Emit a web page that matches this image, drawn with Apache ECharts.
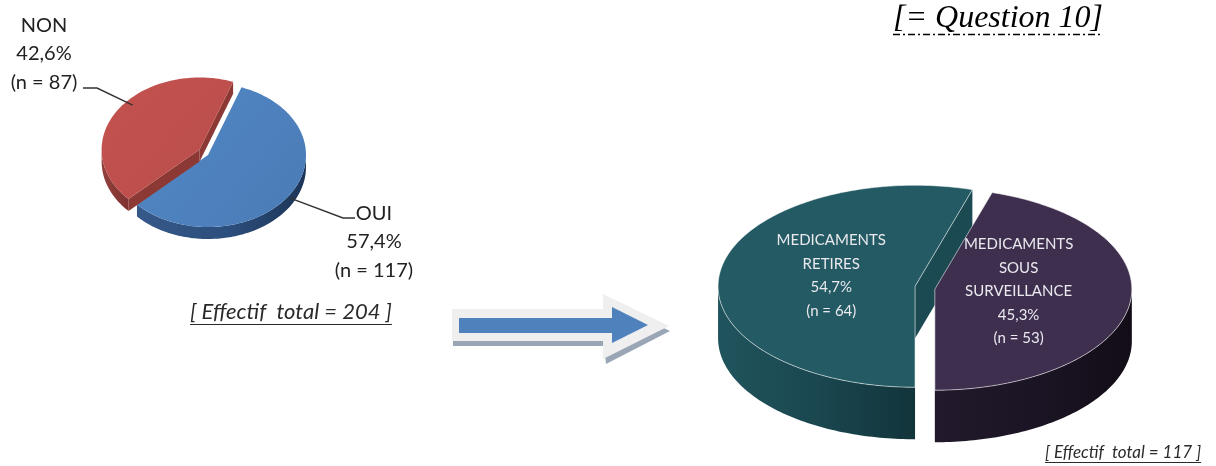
<!DOCTYPE html>
<html>
<head>
<meta charset="utf-8">
<script src="https://cdn.jsdelivr.net/npm/echarts@6/dist/echarts.min.js"></script>
<style>
  html, body { margin: 0; padding: 0; background: #ffffff; }
  #chart { width: 1216px; height: 466px; }
</style>
</head>
<body>
<div id="chart"></div>
<script>
// All respondents: answer to the question
const answerNames = ['OUI', 'NON'];
const answerCounts = [117, 87];
const answerShares = [57.4, 42.6];
const answerTotal = 204;

// Respondents who answered OUI: what happened to the medicines
const outcomeNames = ['MEDICAMENTS\nRETIRES', 'MEDICAMENTS\nSOUS\nSURVEILLANCE'];
const outcomeCounts = [64, 53];
const outcomeShares = [54.7, 45.3];
const outcomeTotal = 117;

const questionRef = '[= Question 10]';

const TAU = Math.PI * 2;
const RAD = Math.PI / 180;
const fmtShare = v => v.toFixed(1).replace('.', ',') + '%';
const fmtCount = n => '(n = ' + n + ')';

const measureCtx = document.createElement('canvas').getContext('2d');
function textWidth(str, font) {
  measureCtx.font = font;
  return measureCtx.measureText(str).width;
}

// Tilted, extruded pie drawn as a custom series (one data item per slice)
function pieSeries(geo, names, counts, shares, look) {
  const total = counts.reduce((a, b) => a + b, 0);
  const bounds = [];
  let acc = 0;
  counts.forEach(c => {
    const s = geo.start * RAD + TAU * acc / total;
    acc += c;
    bounds.push([s, geo.start * RAD + TAU * acc / total]);
  });

  return {
    type: 'custom',
    coordinateSystem: 'none',
    silent: true,
    animation: false,
    data: counts.map((c, i) => ({ name: names[i], value: [c, shares[i]] })),
    renderItem(params, api) {
      const i = params.dataIndex;
      const count = api.value(0);
      const share = api.value(1);
      const [s, e] = bounds[i];
      const mid = (s + e) / 2;
      const cx = geo.cx + geo.explode[i] * Math.cos(mid);
      const cy = geo.cy + geo.explode[i] * Math.sin(mid);
      const d = geo.depth;
      const P = (a, dy) => [cx + geo.rx * Math.cos(a), cy + geo.ry * Math.sin(a) + (dy || 0)];
      const arc = (a0, a1, dy) => {
        const n = Math.max(2, Math.ceil(Math.abs(a1 - a0) / 0.02));
        const pts = [];
        for (let k = 0; k <= n; k++) pts.push(P(a0 + (a1 - a0) * k / n, dy));
        return pts;
      };
      const c = look.slices[i];
      const base = i * 10;
      const children = [];

      // outer wall: only the part of the rim facing the viewer
      for (let k = Math.floor(s / TAU) - 1; k <= Math.ceil(e / TAU); k++) {
        const lo = Math.max(s, TAU * k);
        const hi = Math.min(e, TAU * k + Math.PI);
        if (hi - lo > 1e-4) {
          children.push({
            type: 'polygon', z2: base + 1,
            shape: { points: arc(lo, hi, 0).concat(arc(hi, lo, d)) },
            style: {
              fill: { type: 'linear', x: 0, y: 0, x2: 1, y2: 0, colorStops: c.wall },
              stroke: c.wallStroke || null, lineWidth: 1
            }
          });
        }
      }
      // radial cut faces that face the viewer
      const face = a => ({
        type: 'polygon', z2: base + 2,
        shape: { points: [[cx, cy], P(a), P(a, d), [cx, cy + d]] },
        style: { fill: c.cut }
      });
      if (Math.cos(s) < -1e-6) children.push(face(s));
      if (Math.cos(e) > 1e-6) children.push(face(e));

      // top face
      children.push({
        type: 'polygon', z2: base + 3,
        shape: { points: [[cx, cy]].concat(arc(s, e, 0)) },
        style: {
          fill: c.top,
          stroke: look.topStroke || null,
          lineWidth: 1
        }
      });

      const text = names[i] + '\n' + fmtShare(share) + '\n' + fmtCount(count);
      if (look.inside) {
        const lx = cx + look.labelR * geo.rx * Math.cos(mid);
        const ly = cy + look.labelR * geo.ry * Math.sin(mid);
        children.push({
          type: 'text', z2: 100,
          style: {
            text: text, x: lx, y: ly + look.labelDy,
            fill: look.labelColor, font: look.font, lineHeight: look.lineHeight,
            align: 'center', verticalAlign: 'middle'
          }
        });
      } else {
        const L = look.labels[i];
        const a = L.leaderAngle * RAD;
        const start = [cx + L.leaderR * geo.rx * Math.cos(a), cy + L.leaderR * geo.ry * Math.sin(a) + L.leaderDy];
        children.push({
          type: 'polyline', z2: 100,
          shape: { points: [start].concat(L.path) },
          style: { stroke: '#333333', lineWidth: 1.4, fill: null }
        });
        children.push({
          type: 'text', z2: 100,
          style: {
            text: text, x: L.x, y: L.y,
            fill: look.labelColor, font: look.font, lineHeight: look.lineHeight,
            align: 'center', verticalAlign: 'top'
          }
        });
      }
      return { type: 'group', children: children };
    }
  };
}

const leftPie = pieSeries(
  { cx: 208, cy: 155, rx: 98, ry: 72, depth: 12, start: -70, explode: [0, 10] },
  answerNames, answerCounts, answerShares,
  {
    inside: false,
    font: '20px Lato',
    lineHeight: 28.5,
    labelColor: '#222222',
    slices: [
      {
        top: { type: 'linear', x: 0, y: 0, x2: 1, y2: 1, colorStops: [
          { offset: 0, color: '#5188c6' }, { offset: 1, color: '#4a7bb6' }] },
        wall: [{ offset: 0, color: '#36598a' }, { offset: 0.55, color: '#2c4e7c' }, { offset: 1, color: '#1c3456' }],
        cut: '#2f5282'
      },
      {
        top: { type: 'linear', x: 0, y: 0, x2: 1, y2: 1, colorStops: [
          { offset: 0, color: '#c4524f' }, { offset: 1, color: '#b94d4a' }] },
        wall: [{ offset: 0, color: '#93403d' }, { offset: 1, color: '#7e3331' }],
        cut: '#8c3835'
      }
    ],
    labels: [
      { x: 374, y: 199, leaderAngle: 33, leaderR: 1.0, leaderDy: 4, path: [[343, 218], [355, 218]] },
      { x: 44, y: 11, leaderAngle: 222, leaderR: 0.92, leaderDy: 0, path: [[97, 88], [83, 88]] }
    ]
  }
);

const rightPie = pieSeries(
  { cx: 920, cy: 287, rx: 197, ry: 101, depth: 52, start: 90, explode: [5, 15] },
  outcomeNames, outcomeCounts, outcomeShares,
  {
    inside: true,
    labelR: 0.43,
    labelDy: -4,
    font: '15px Lato',
    lineHeight: 23.5,
    labelColor: '#e9e9ee',
    topStroke: 'rgba(255,255,255,0.55)',
    slices: [
      {
        top: '#235a63',
        wall: [{ offset: 0, color: '#20545c' }, { offset: 0.5, color: '#1a4750' }, { offset: 1, color: '#12343b' }],
        cut: '#1b4a52'
      },
      {
        top: '#3e2f4f',
        wall: [{ offset: 0, color: '#221a2c' }, { offset: 0.6, color: '#1a1322' }, { offset: 1, color: '#120d17' }],
        cut: '#2a2036'
      }
    ]
  }
);

// captions and decorations
const totalFontL = 'italic 22px Lato';
const totalFontR = 'italic 17px Lato';
const questionFont = 'italic 32px "Liberation Serif"';
const totalTextL = '[ Effectif  total = ' + answerTotal + ' ]';
const totalTextR = '[ Effectif  total = ' + outcomeTotal + ' ]';
const wL = textWidth(totalTextL, totalFontL);
const wR = textWidth(totalTextR, totalFontR);
const wQ = textWidth(questionRef, questionFont);

const graphics = [
  { type: 'text', x: 190, y: 312, style: { text: totalTextL, font: totalFontL, fill: '#2a2a2a', verticalAlign: 'middle' } },
  { type: 'line', shape: { x1: 190, y1: 324.5, x2: 190 + wL, y2: 324.5 }, style: { stroke: '#2a2a2a', lineWidth: 1.2 } },
  { type: 'text', x: 1045, y: 453, style: { text: totalTextR, font: totalFontR, fill: '#2a2a2a', verticalAlign: 'middle' } },
  { type: 'line', shape: { x1: 1045, y1: 462.5, x2: 1045 + wR, y2: 462.5 }, style: { stroke: '#2a2a2a', lineWidth: 1 } },
  { type: 'text', x: 893, y: 19, style: { text: questionRef, font: questionFont, fill: '#000000', verticalAlign: 'middle' } },
  { type: 'line', shape: { x1: 893, y1: 34.5, x2: 893 + wQ, y2: 34.5 }, style: { stroke: '#000000', lineWidth: 1.3, lineDash: [7, 3, 2, 3] } },
  // arrow: shadow, light rim, blue body
  { type: 'polygon', z: 1, shape: { points: [[453, 315], [604, 315], [604, 299], [670, 331], [606, 364], [604, 346], [453, 346]] }, style: { fill: '#9aa5b6' } },
  { type: 'polygon', z: 2, shape: { points: [[452, 309], [603, 309], [603, 294], [669, 326], [603, 359], [603, 341], [452, 341]] }, style: { fill: '#efefef' } },
  { type: 'polygon', z: 3, shape: { points: [[459, 318], [612, 318], [612, 307], [648, 325], [612, 343], [612, 333], [459, 333]] }, style: { fill: '#4f81bd' } }
];

const chart = echarts.init(document.getElementById('chart'), null, { renderer: 'canvas' });
chart.setOption({
  animation: false,
  backgroundColor: '#ffffff',
  series: [leftPie, rightPie],
  graphic: { elements: graphics }
});
</script>
</body>
</html>
